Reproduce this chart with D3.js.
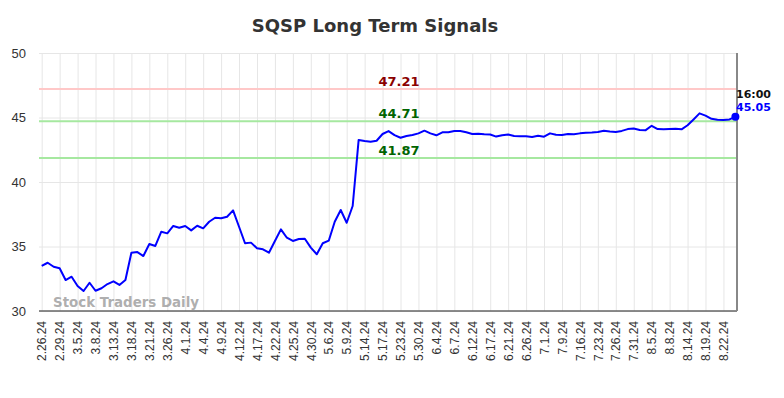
<!DOCTYPE html>
<html>
<head>
<meta charset="utf-8">
<script src="https://cdn.jsdelivr.net/npm/d3@7"></script>
<style>
  body { margin: 0; background: #fff; }
  svg { display: block; font-family: "DejaVu Sans", sans-serif; }
  .grid line { stroke: #e6e6e6; stroke-width: 1; }
  .grid path { display: none; }
  .y-axis path, .y-axis line { display: none; }
  .y-axis text { fill: #333; font-size: 13px; }
  .x-axis path { stroke: #666; stroke-width: 1.5; }
  .x-axis line { display: none; }
  .x-axis text { fill: #333; font-size: 12px; }
</style>
</head>
<body>
<svg width="784" height="398"></svg>
<script>
const dates = [
  "2.26.24", "2.27.24", "2.28.24", "2.29.24", "3.1.24", "3.4.24",
  "3.5.24", "3.6.24", "3.7.24", "3.8.24", "3.11.24", "3.12.24",
  "3.13.24", "3.14.24", "3.15.24", "3.18.24", "3.19.24", "3.20.24",
  "3.21.24", "3.22.24", "3.25.24", "3.26.24", "3.27.24", "3.28.24",
  "4.1.24", "4.2.24", "4.3.24", "4.4.24", "4.5.24", "4.8.24",
  "4.9.24", "4.10.24", "4.11.24", "4.12.24", "4.15.24", "4.16.24",
  "4.17.24", "4.18.24", "4.19.24", "4.22.24", "4.23.24", "4.24.24",
  "4.25.24", "4.26.24", "4.29.24", "4.30.24", "5.1.24", "5.3.24",
  "5.6.24", "5.7.24", "5.8.24", "5.9.24", "5.10.24", "5.13.24",
  "5.14.24", "5.15.24", "5.16.24", "5.17.24", "5.20.24", "5.21.24",
  "5.23.24", "5.24.24", "5.28.24", "5.30.24", "5.31.24", "6.3.24",
  "6.4.24", "6.5.24", "6.6.24", "6.7.24", "6.10.24", "6.11.24",
  "6.12.24", "6.13.24", "6.14.24", "6.17.24", "6.18.24", "6.20.24",
  "6.21.24", "6.24.24", "6.25.24", "6.26.24", "6.27.24", "6.28.24",
  "7.1.24", "7.2.24", "7.5.24", "7.9.24", "7.10.24", "7.12.24",
  "7.16.24", "7.17.24", "7.19.24", "7.23.24", "7.24.24", "7.25.24",
  "7.26.24", "7.29.24", "7.30.24", "7.31.24", "8.1.24", "8.2.24",
  "8.5.24", "8.6.24", "8.7.24", "8.8.24", "8.9.24", "8.12.24",
  "8.14.24", "8.15.24", "8.16.24", "8.19.24", "8.20.24", "8.21.24",
  "8.22.24", "8.23.24", "8.26.24"
];

const prices = [
  33.49, 33.74, 33.43, 33.31, 32.40, 32.66, 31.94, 31.55, 32.19, 31.57,
  31.76, 32.09, 32.30, 32.02, 32.40, 34.52, 34.57, 34.26, 35.19, 35.04,
  36.15, 36.02, 36.59, 36.46, 36.59, 36.25, 36.61, 36.41, 36.92, 37.23,
  37.19, 37.31, 37.80, 36.53, 35.25, 35.30, 34.86, 34.78, 34.52, 35.43,
  36.33, 35.68, 35.43, 35.58, 35.60, 34.91, 34.40, 35.25, 35.45, 36.92,
  37.83, 36.84, 38.14, 43.26, 43.18, 43.12, 43.20, 43.72, 43.95, 43.64,
  43.43, 43.57, 43.64, 43.77, 43.98, 43.77, 43.62, 43.85, 43.85, 43.95,
  43.95, 43.85, 43.72, 43.74, 43.70, 43.68, 43.52, 43.62, 43.68, 43.57,
  43.55, 43.54, 43.49, 43.58, 43.51, 43.77, 43.66, 43.64, 43.72, 43.70,
  43.77, 43.82, 43.84, 43.88, 43.98, 43.92, 43.88, 43.96, 44.10, 44.14,
  44.03, 44.02, 44.36, 44.10, 44.08, 44.11, 44.12, 44.08, 44.40, 44.85,
  45.32, 45.15, 44.90, 44.82, 44.80, 44.85, 45.05
];

const tickLabels = [
  "2.26.24", "2.29.24", "3.5.24", "3.8.24", "3.13.24", "3.18.24",
  "3.21.24", "3.26.24", "4.1.24", "4.4.24", "4.9.24", "4.12.24",
  "4.17.24", "4.22.24", "4.25.24", "4.30.24", "5.6.24", "5.9.24",
  "5.14.24", "5.17.24", "5.23.24", "5.30.24", "6.4.24", "6.7.24",
  "6.12.24", "6.17.24", "6.21.24", "6.26.24", "7.1.24", "7.9.24",
  "7.16.24", "7.23.24", "7.26.24", "7.31.24", "8.5.24", "8.8.24",
  "8.14.24", "8.19.24", "8.22.24"
];

const yTicks = [30, 35, 40, 45, 50];

const signalValues = [47.21, 44.71, 41.87];
const signalLabels = ["47.21", "44.71", "41.87"];

const svg = d3.select("svg");

const plotLeft = 39;
const plotRight = 737;
const plotTop = 53;
const plotBottom = 311;

const scaleX = d3
  .scalePoint()
  .domain(dates)
  .range([41.7, 735.4]);

const scaleY = d3
  .scaleLinear()
  .domain([30, 50])
  .range([plotBottom, plotTop]);

// grid
svg
  .append("g")
  .attr("class", "grid")
  .attr("transform", `translate(0, ${plotBottom})`)
  .call(d3.axisBottom(scaleX).tickValues(tickLabels).tickSize(-(plotBottom - plotTop)).tickFormat(""));

svg
  .append("g")
  .attr("class", "grid")
  .attr("transform", `translate(${plotLeft}, 0)`)
  .call(d3.axisLeft(scaleY).tickValues(yTicks).tickSize(-(plotRight - plotLeft)).tickFormat(""));

// signal lines
const signalColors = ["#ffc8c8", "#a6e8a0", "#a6e8a0"];
const signalText = ["#8b0000", "#006400", "#006400"];

svg
  .selectAll("line.signal")
  .data(signalValues)
  .enter()
  .append("line")
  .attr("class", "signal")
  .attr("x1", plotLeft)
  .attr("x2", plotRight)
  .attr("y1", d => scaleY(d))
  .attr("y2", d => scaleY(d))
  .attr("stroke", (d, i) => signalColors[i])
  .attr("stroke-width", 2);

svg
  .selectAll("text.signal")
  .data(signalValues)
  .enter()
  .append("text")
  .attr("class", "signal")
  .attr("x", 399)
  .attr("y", d => scaleY(d) - 3)
  .attr("text-anchor", "middle")
  .attr("font-size", 13)
  .attr("font-weight", "bold")
  .attr("fill", (d, i) => signalText[i])
  .text((d, i) => signalLabels[i]);

// axes
svg
  .append("g")
  .attr("class", "y-axis")
  .attr("transform", `translate(${plotLeft}, 0)`)
  .call(d3.axisLeft(scaleY).tickValues(yTicks).tickSize(0).tickPadding(13));

const axisX = svg
  .append("g")
  .attr("class", "x-axis")
  .attr("transform", `translate(0, ${plotBottom})`)
  .call(d3.axisBottom(scaleX).tickValues(tickLabels).tickSizeOuter(0));

axisX.select("path").attr("d", `M${plotLeft},0H${plotRight}`);

axisX
  .selectAll("text")
  .attr("transform", "rotate(-90)")
  .attr("text-anchor", "end")
  .attr("x", -10)
  .attr("y", 0)
  .attr("dy", "0.35em");

// watermark
svg
  .append("text")
  .attr("x", 53)
  .attr("y", 307)
  .attr("font-size", 13.4)
  .attr("font-weight", "bold")
  .attr("fill", "#999")
  .attr("fill-opacity", 0.8)
  .text("Stock Traders Daily");

// price line
const line = d3
  .line()
  .x((d, i) => scaleX(dates[i]))
  .y(d => scaleY(d));

svg
  .append("path")
  .datum(prices)
  .attr("fill", "none")
  .attr("stroke", "#0000ff")
  .attr("stroke-width", 2)
  .attr("stroke-linejoin", "round")
  .attr("d", line);

// right edge marker
svg
  .append("line")
  .attr("x1", plotRight)
  .attr("x2", plotRight)
  .attr("y1", plotTop)
  .attr("y2", plotBottom)
  .attr("stroke", "#888")
  .attr("stroke-width", 2);

const lastIndex = prices.length - 1;
const lastX = scaleX(dates[lastIndex]);
const lastY = scaleY(prices[lastIndex]);

svg
  .append("circle")
  .attr("cx", lastX)
  .attr("cy", lastY)
  .attr("r", 4)
  .attr("fill", "#0000ff");

svg
  .append("text")
  .attr("x", plotRight - 1)
  .attr("y", 98)
  .attr("font-size", 11)
  .attr("font-weight", "bold")
  .attr("fill", "#111")
  .text("16:00");

svg
  .append("text")
  .attr("x", plotRight - 1)
  .attr("y", 111)
  .attr("font-size", 11)
  .attr("font-weight", "bold")
  .attr("fill", "#0000ff")
  .text(prices[lastIndex].toFixed(2));

// title
svg
  .append("text")
  .attr("x", 375)
  .attr("y", 32)
  .attr("text-anchor", "middle")
  .attr("font-size", 18)
  .attr("font-weight", "bold")
  .attr("fill", "#333")
  .text("SQSP Long Term Signals");
</script>
</body>
</html>
